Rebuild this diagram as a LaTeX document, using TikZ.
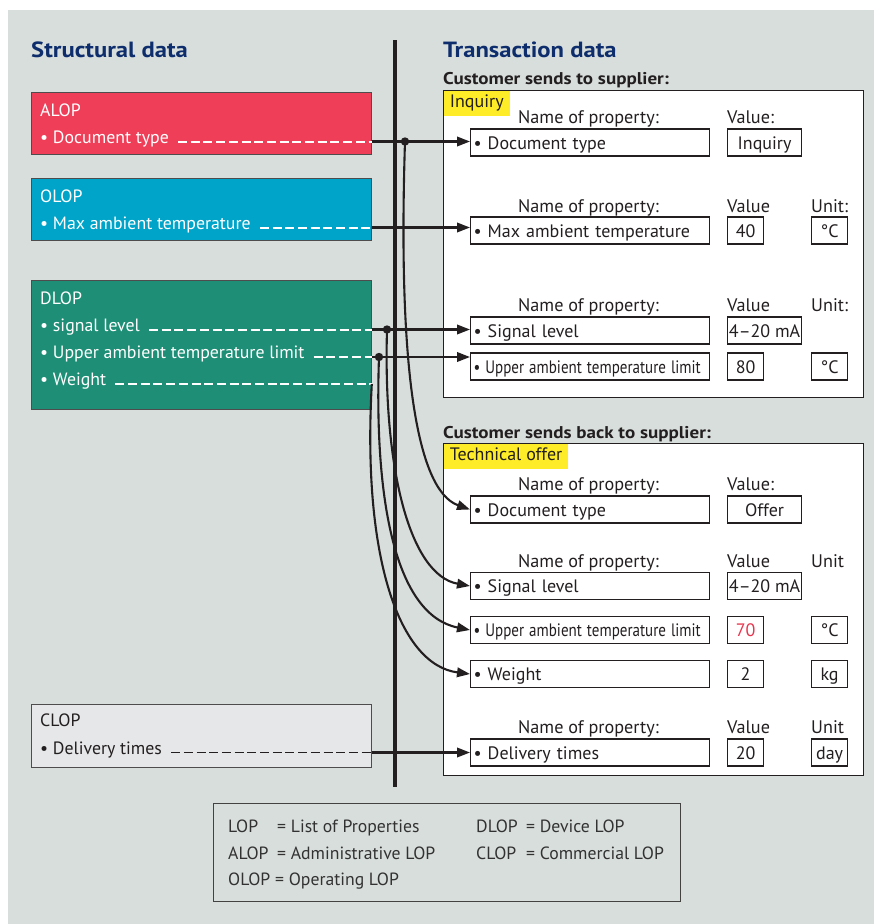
\documentclass[tikz,border=0pt]{standalone}
\usepackage{fontspec}
\usepackage{graphicx}
\setmainfont{PT Sans}
\newfontfamily\bwide[FakeStretch=1.12]{PT Sans}
\usetikzlibrary{arrows.meta,calc}
\definecolor{bg}{RGB}{216,222,219}
\definecolor{cred}{RGB}{239,63,88}
\definecolor{cblue}{RGB}{0,164,201}
\definecolor{cgreen}{RGB}{30,143,118}
\definecolor{cgray}{RGB}{229,231,232}
\definecolor{yel}{RGB}{255,236,40}
\definecolor{tblue}{RGB}{13,45,108}
\definecolor{dark}{RGB}{35,31,32}
\definecolor{redtxt}{RGB}{232,53,77}
\definecolor{legtxt}{RGB}{50,50,50}
\newcommand{\fsz}[1]{\fontsize{#1pt}{#1pt}\selectfont}
\newcommand{\condtxt}[1]{\scalebox{0.835}[1]{#1}}
\begin{document}
\begin{tikzpicture}[x=1pt,y=-1pt,
  lbox/.style={draw=dark!80, line width=0.8pt, minimum width=340pt, anchor=north west, inner sep=0pt},
  ltext/.style={anchor=base west, inner sep=0pt, text=white, font=\fsz{17.8}},
  wdash/.style={draw=white, line width=2pt, dash pattern=on 9pt off 3.7pt},
  bdash/.style={draw=dark, line width=1.5pt, dash pattern=on 9pt off 3.7pt},
  bigbox/.style={draw=dark, line width=1.4pt, fill=white, minimum width=420pt, anchor=north west, inner sep=0pt},
  ylabel/.style={fill=yel, anchor=north west, inner xsep=6pt, inner ysep=0pt, minimum height=25pt, text height=13pt, text depth=4pt, font=\fsz{18}, text=dark},
  hlab/.style={anchor=base west, inner sep=0pt, font=\fsz{18.2}, text=dark},
  prop/.style={draw=dark, line width=1.2pt, anchor=west, minimum width=239pt, minimum height=27pt, text width=233pt, inner xsep=3pt, inner ysep=0pt, align=left, text height=14pt, text depth=1pt, font=\fsz{18}, text=dark},
  val/.style={draw=dark, line width=1.2pt, anchor=west, minimum height=27pt, inner sep=0pt, text height=14pt, text depth=1pt, font=\fsz{18}, text=dark},
  arr/.style={draw=dark, line width=2.1pt, -{Triangle[length=13pt,width=9.5pt]}},
  title/.style={anchor=base west, inner sep=0pt, font=\bwide\bfseries\fsz{22}, text=tblue},
  sect/.style={anchor=base west, inner sep=0pt, font=\bwide\bfseries\fsz{17}, text=dark},
  leg/.style={anchor=base west, inner sep=0pt, font=\fsz{17.7}, text=legtxt}
]
\useasboundingbox (0,0) rectangle (874,924);
\fill[white] (0,0) rectangle (874,924);
\fill[bg] (8,10) rectangle (874,924);

% titles
\node[title] (t1) at (31,57) {Structural data};
\node[title] (t2) at (443,57) {Transaction data};
\node[sect] (s1) at (443,84) {Customer sends to supplier:};
\node[sect] (s2) at (443,438) {Customer sends back to supplier:};

% left boxes
\node[lbox, fill=cred, minimum height=62pt] (alop) at (31,92) {};
\node[ltext] (alopH) at (40,116) {ALOP};
\node[ltext] (alopT) at (40,143) {• Document type};
\draw[wdash] ($(alopT.east |- 0,141.5)+(9,0)$) -- (alop.east |- 0,141.5);

\node[lbox, fill=cblue, minimum height=62pt] (olop) at (31,178) {};
\node[ltext] (olopH) at (40,202) {OLOP};
\node[ltext] (olopT) at (40,229) {• Max ambient temperature};
\draw[wdash] ($(olopT.east |- 0,227.5)+(9,0)$) -- (olop.east |- 0,227.5);

\node[lbox, fill=cgreen, minimum height=129pt] (dlop) at (31,280) {};
\node[ltext] (dlopH) at (40,304) {DLOP};
\node[ltext] (dlopA) at (40,331) {• signal level};
\node[ltext] (dlopB) at (40,358) {• Upper ambient temperature limit};
\node[ltext] (dlopC) at (40,385) {• Weight};
\draw[wdash] ($(dlopA.east |- 0,329.5)+(9,0)$) -- (dlop.east |- 0,329.5);
\draw[wdash] ($(dlopB.east |- 0,357)+(9,0)$) -- (dlop.east |- 0,357);
\draw[wdash] ($(dlopC.east |- 0,384)+(9,0)$) -- (dlop.east |- 0,384);

\node[lbox, fill=cgray, minimum height=63pt] (clop) at (31,704) {};
\node[ltext, text=dark] (clopH) at (40,726) {CLOP};
\node[ltext, text=dark] (clopT) at (40,754) {• Delivery times};
\draw[bdash] ($(clopT.east |- 0,752.5)+(9,0)$) -- (clop.east |- 0,752.5);

% inquiry box
\node[bigbox, minimum height=307pt] (inq) at (443,90) {};
\node[ylabel] (inqL) at ([shift={(0.7,0.7)}]inq.north west) {Inquiry};
\node[hlab] (ih1) at (518,123) {Name of property:};
\node[hlab] (ih2) at (727,123) {Value:};
\node[prop] (i1) at (470,142.5) {• Document type};
\node[val, minimum width=74pt] (i1v) at (727,142.5) {Inquiry};

\node[hlab] (ih3) at (518,212.7) {Name of property:};
\node[hlab] (ih4) at (727,212.7) {Value};
\node[hlab] (ih5) at (811,212.7) {Unit:};
\node[prop] (i2) at (470,230.5) {• Max ambient temperature};
\node[val, minimum width=36pt] (i2v) at (727,230.5) {40};
\node[val, minimum width=36pt] (i2u) at (811,230.5) {°C};

\node[hlab] (ih6) at (518,311.7) {Name of property:};
\node[hlab] (ih7) at (727,311.7) {Value};
\node[hlab] (ih8) at (811,311.7) {Unit:};
\node[prop] (i3) at (470,330.5) {• Signal level};
\node[val, minimum width=74pt] (i3v) at (727,330.5) {4–20 mA};
\node[prop] (i4) at (470,366.5) {\condtxt{• Upper ambient temperature limit}};
\node[val, minimum width=36pt] (i4v) at (727,366.5) {80};
\node[val, minimum width=36pt] (i4u) at (811,366.5) {°C};

% offer box
\node[bigbox, minimum height=332pt] (off) at (443,443) {};
\node[ylabel] (offL) at ([shift={(0.7,0.7)}]off.north west) {Technical offer};
\node[hlab] (oh1) at (518,490) {Name of property:};
\node[hlab] (oh2) at (727,490) {Value:};
\node[prop] (o1) at (470,509.5) {• Document type};
\node[val, minimum width=74pt] (o1v) at (727,509.5) {Offer};

\node[hlab] (oh3) at (518,567) {Name of property:};
\node[hlab] (oh4) at (727,567) {Value};
\node[hlab] (oh5) at (811,567) {Unit};
\node[prop] (o2) at (470,586) {• Signal level};
\node[val, minimum width=74pt] (o2v) at (727,586) {4–20 mA};
\node[prop] (o3) at (470,630) {\condtxt{• Upper ambient temperature limit}};
\node[val, minimum width=36pt, text=redtxt] (o3v) at (727,630) {70};
\node[val, minimum width=36pt] (o3u) at (811,630) {°C};
\node[prop] (o4) at (470,674) {• Weight};
\node[val, minimum width=36pt] (o4v) at (727,674) {2};
\node[val, minimum width=36pt] (o4u) at (811,674) {kg};

\node[hlab] (oh6) at (518,733) {Name of property:};
\node[hlab] (oh7) at (727,733) {Value};
\node[hlab] (oh8) at (811,733) {Unit};
\node[prop] (o5) at (470,752.5) {• Delivery times};
\node[val, minimum width=36pt] (o5v) at (727,752.5) {20};
\node[val, minimum width=36pt] (o5u) at (811,752.5) {day};

% thick divider
\coordinate (vt) at (395,40);
\coordinate (vb) at (395,787);
\draw[dark, line width=4.5pt] (vt) -- (vb);

% connectors
\draw[arr] (alop.east |- 0,141.5) -- (i1.west |- 0,141.5);
\draw[arr] (olop.east |- 0,227.5) -- (i2.west |- 0,227.5);
\draw[arr] (dlop.east |- 0,329.5) -- (i3.west |- 0,329.5);
\draw[arr] (dlop.east |- 0,357) -- (i4.west |- 0,357);
\draw[arr] (clop.east |- 0,752.5) -- (o5.west |- 0,752.5);

\coordinate (d1) at (405,141.5);
\coordinate (d2) at (387,329.5);
\coordinate (d3) at (379,357);
\coordinate (d4) at (dlop.east |- 0,384);
\draw[arr] (d1) .. controls (398,360) and (415,490) .. (o1.west);
\draw[arr] (d2) .. controls (383,470) and (410,575) .. (o2.west);
\draw[arr] (d3) .. controls (374,500) and (395,615) .. (o3.west);
\draw[arr] (d4) .. controls (362,560) and (400,665) .. (o4.west);
\fill[dark] (d1) circle (4.2pt);
\fill[dark] (d2) circle (4.2pt);
\fill[dark] (d3) circle (4.2pt);

% legend
\node[draw=dark!85, line width=1pt, minimum width=467pt, minimum height=98pt, anchor=north west, inner sep=0pt] (legend) at (213,803) {};
\node[leg] (l1a) at (228,832.5) {LOP};
\node[leg] (l1b) at (277,832.5) {= List of Properties};
\node[leg] (l1c) at (476,832.5) {DLOP};
\node[leg] (l1d) at (526,832.5) {= Device LOP};
\node[leg] (l2a) at (228,859) {ALOP};
\node[leg] (l2b) at (277,859) {= Administrative LOP};
\node[leg] (l2c) at (476,859) {CLOP};
\node[leg] (l2d) at (526,859) {= Commercial LOP};
\node[leg] (l3a) at (228,885.5) {OLOP};
\node[leg] (l3b) at (275,885.5) {= Operating LOP};
\end{tikzpicture}
\end{document}
